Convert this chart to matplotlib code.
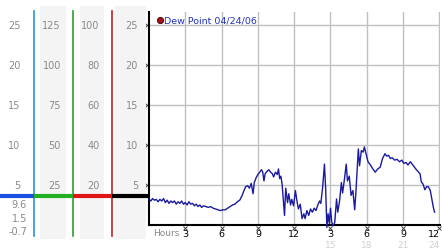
#!/usr/bin/env python3

import matplotlib

matplotlib.use("Agg")
import matplotlib.pyplot as plt
from matplotlib.patches import Rectangle
from matplotlib.transforms import blended_transform_factory

# Dew point readings (hour of day, value)
hours = [
    0.0, 0.15, 0.3, 0.45, 0.6, 0.75, 0.9, 1.05, 1.2, 1.35, 1.5, 1.65, 1.8, 1.95,
    2.1, 2.25, 2.4, 2.55, 2.7, 2.85, 3.0, 3.15, 3.3, 3.45, 3.6, 3.75, 3.9, 4.05,
    4.2, 4.35, 4.5, 4.7, 4.9, 5.1, 5.3, 5.5, 5.7, 5.9, 6.1, 6.3, 6.5, 6.7, 6.9,
    7.1, 7.3, 7.5, 7.7, 7.85, 8.0, 8.15, 8.3, 8.45, 8.6, 8.7, 8.85, 9.0, 9.15,
    9.3, 9.4, 9.5, 9.6, 9.75, 9.9, 10.05, 10.2, 10.3, 10.45, 10.6, 10.7, 10.8,
    10.9, 11.0, 11.2, 11.3, 11.45, 11.55, 11.7, 11.8, 11.95, 12.1, 12.25, 12.35,
    12.5, 12.65, 12.8, 12.9, 13.05, 13.2, 13.35, 13.5, 13.65, 13.8, 13.95, 14.1,
    14.2, 14.35, 14.5, 14.6, 14.7, 14.8, 14.9, 15.0, 15.1, 15.2, 15.35, 15.5,
    15.6, 15.75, 15.9, 16.0, 16.15, 16.3, 16.4, 16.55, 16.7, 16.85, 17.0, 17.1,
    17.3, 17.4, 17.55, 17.7, 17.8, 17.95, 18.1, 18.3, 18.5, 18.7, 18.9, 19.1,
    19.3, 19.5, 19.65, 19.8, 19.95, 20.1, 20.3, 20.5, 20.7, 20.9, 21.05, 21.25,
    21.4, 21.6, 21.75, 21.9, 22.1, 22.4, 22.5, 22.65, 22.8, 22.95, 23.1, 23.25,
    23.4, 23.5, 23.6,
]
dew_point = [
    3.25, 3.0, 3.3, 3.1, 3.2, 2.9, 3.2, 3.0, 3.3, 2.8, 3.1, 2.7, 3.0, 2.8,
    3.0, 2.6, 2.9, 2.7, 3.0, 2.6, 2.8, 2.5, 2.9, 2.6, 2.7, 2.4, 2.6, 2.3,
    2.5, 2.2, 2.4, 2.3, 2.2, 2.3, 2.1, 2.0, 1.9, 1.8, 1.9, 1.9, 2.1, 2.3, 2.5,
    2.6, 2.9, 3.1, 3.7, 4.3, 4.8, 4.9, 4.6, 5.2, 3.9, 5.3, 5.9, 6.3, 6.6,
    6.9, 6.6, 5.5, 6.4, 6.7, 6.9, 6.6, 6.4, 6.0, 6.6, 6.3, 7.0, 5.8,
    6.1, 5.1, 1.2, 4.6, 2.8, 3.9, 2.5, 3.2, 2.4, 4.3, 2.8, 2.0,
    2.6, 0.8, 1.4, 0.8, 1.8, 1.2, 2.0, 1.6, 2.1, 1.8, 2.5, 3.0,
    2.7, 4.7, 7.6, 4.5, -0.3, 1.4, 0.2, 2.1, 0.4, -0.1, 0.3, 3.25,
    1.6, 3.0, 5.3, 4.0, 5.7, 7.6, 5.5, 6.1, 3.7, 4.3, 1.9, 4.1,
    9.5, 7.4, 9.3, 9.1, 9.75, 8.8, 7.9, 7.5, 7.0, 6.6, 7.0, 7.2,
    8.3, 8.9, 8.6, 8.7, 8.3, 8.4, 8.1, 8.2, 7.9, 8.1, 7.7, 7.8,
    7.5, 7.9, 7.6, 7.3, 6.9, 6.4, 5.4, 5.1, 4.4, 4.8, 4.75, 4.3,
    3.05, 2.2, 1.6,
]

legend_label = "Dew Point 04/24/06"
y_ticks = [5, 10, 15, 20, 25]
x_ticks = [3, 6, 9, 12, 15, 18, 21, 24]
x_tick_labels = ["3", "6", "9", "12", "3", "6", "9", "12"]
x_tick_labels_24h = ["15", "18", "21", "24"]

# side scales on the left
scale_a = ["25", "20", "15", "10", "5"]
scale_b = ["125", "100", "75", "50", "25"]
scale_c = ["100", "80", "60", "40", "20"]
scale_d = ["25", "20", "15", "10", "5"]
stats_labels = ["9.6", "1.5", "-0.7"]
marker_level = 3.6

W, H = 442, 253
Y_TOP = 26.6
X_RIGHT = 24.05

fig = plt.figure(figsize=(W / 100, H / 100), dpi=100)
fig.patch.set_facecolor("white")

ax_pos = [149 / W, (H - 226) / H, (440 - 149) / W, 213 / H]
ax = fig.add_axes(ax_pos)
side = fig.add_axes([0, ax_pos[1], 149 / W, ax_pos[3]])

# ---- main plot
ax.set_xlim(0, X_RIGHT)
ax.set_ylim(0, Y_TOP)
for t in x_ticks:
    ax.axvline(t, color="#c0c0c0", lw=1, zorder=1)
for t in y_ticks:
    ax.axhline(t, color="#c0c0c0", lw=1, zorder=1)
ax.plot(hours, dew_point, color="#1a1aa0", lw=1, zorder=3, clip_on=False)

for s in ["top", "right"]:
    ax.spines[s].set_visible(False)
ax.spines["left"].set_linewidth(1.5)
ax.spines["bottom"].set_linewidth(1.5)
ax.set_xticks([])
ax.set_yticks([])

# little tick glyphs
tr_y = blended_transform_factory(ax.transAxes, ax.transData)
ax.plot([-0.007] * len(y_ticks), y_ticks, "x", ms=2.2, mew=0.7, color="#444444",
        transform=tr_y, clip_on=False)
tr_x = blended_transform_factory(ax.transData, ax.transAxes)
ax.plot(x_ticks, [-0.016] * len(x_ticks), "x", ms=2.2, mew=0.7, color="#444444",
        transform=tr_x, clip_on=False)


def _tick_text(t, y, lab, **kw):
    # last label sits at the right edge, keep it inside the picture
    if t == x_ticks[-1]:
        ax.text(X_RIGHT - 0.02, y, lab, transform=tr_x, ha="right", va="center", **kw)
    else:
        ax.text(t, y, lab, transform=tr_x, ha="center", va="center", **kw)


for t, lab in zip(x_ticks, x_tick_labels):
    _tick_text(t, -0.041, lab, fontsize=6.8, color="black")
for t, lab in zip(x_ticks[4:], x_tick_labels_24h):
    _tick_text(t, -0.093, lab, fontsize=6.5, color="#d0d0d0")
ax.text(0.015, -0.033, "Hours", transform=ax.transAxes, ha="left", va="center",
        fontsize=6.5, color="#888888")

# legend
ax.plot([0.95], [25.6], "o", ms=4.5, color="#a01010", mec="#400000", mew=0.6,
        clip_on=False, zorder=4)
ax.text(1.25, 25.6, legend_label, ha="left", va="center", fontsize=6.8,
        color="#2233bb", zorder=4)

# ---- left scales panel
side.set_xlim(0, 149)
side.set_ylim(0, Y_TOP)
side.axis("off")

for x0, x1 in [(40, 66), (80, 104), (115, 146)]:
    side.add_patch(Rectangle((x0, -1.75), x1 - x0, 29.1, facecolor="#f4f4f4",
                             edgecolor="none", clip_on=False, zorder=0))

for xv, col in [(33.5, "#2a95d0"), (72.5, "#2aa02a"), (111.5, "#c02020")]:
    side.plot([xv, xv], [-1.35, 26.75], color=col, lw=1.2, clip_on=False, zorder=2)

for x0, x1, col in [(0, 33.5, "#1a50e0"), (33.5, 72.5, "#22b022"),
                    (72.5, 111.5, "#e01515"), (111.5, 149, "black")]:
    side.plot([x0, x1], [marker_level, marker_level], color=col, lw=3,
              solid_capstyle="butt", clip_on=False, zorder=3)

label_color = "#8a8a8a"
for labels, xr in [(scale_a, 20.5), (scale_b, 61), (scale_c, 99.5), (scale_d, 138)]:
    for v, lab in zip(y_ticks[::-1], labels):
        side.text(xr, v, lab, ha="right", va="center", fontsize=7, color=label_color)

for v, lab in zip([2.6, 0.85, -0.75], stats_labels):
    side.text(27, v, lab, ha="right", va="center", fontsize=7, color=label_color,
              clip_on=False)

fig.savefig("out.png", dpi=100, facecolor="white")
